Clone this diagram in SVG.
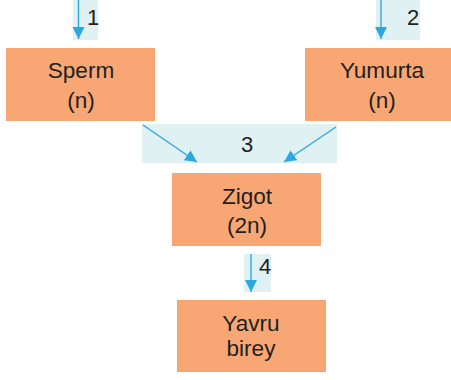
<svg xmlns="http://www.w3.org/2000/svg" width="451" height="380" viewBox="0 0 451 380">
<style>
.box{fill:#f8a774;}
.bg{fill:#dff1f3;}
.t{font-family:"Liberation Sans",Arial,sans-serif;font-size:22.6px;fill:#231f20;text-anchor:middle;}
.n{font-family:"Liberation Sans",Arial,sans-serif;font-size:22px;fill:#231f20;text-anchor:middle;}
.ar{stroke:#2ea7e0;stroke-width:1.4;fill:none;}
</style>
<defs>
<marker id="ah" markerUnits="userSpaceOnUse" markerWidth="14" markerHeight="14" viewBox="0 0 14 14" refX="12" refY="7" orient="auto">
<path d="M0,1 L12,7 L0,13 Z" fill="#2ea7e0"/>
</marker>
</defs>
<g id="labels">
<rect class="bg" x="73" y="0" width="25" height="40"/>
<rect class="bg" x="376" y="0" width="44" height="40"/>
<rect class="bg" x="142" y="124" width="195" height="39"/>
<rect class="bg" x="244" y="254" width="27" height="38"/>
<text class="n" x="93" y="25">1</text>
<text class="n" x="413" y="25">2</text>
<text class="n" x="247" y="152">3</text>
<text class="n" x="265" y="274">4</text>
</g>
<g id="connectors">
<line class="ar" x1="78.5" y1="0" x2="78.5" y2="39" marker-end="url(#ah)"/>
<line class="ar" x1="381" y1="0" x2="381" y2="39" marker-end="url(#ah)"/>
<line class="ar" x1="143" y1="125" x2="197" y2="162" marker-end="url(#ah)"/>
<line class="ar" x1="336" y1="127" x2="284" y2="162" marker-end="url(#ah)"/>
<line class="ar" x1="251" y1="254" x2="251" y2="292" marker-end="url(#ah)"/>
</g>
<g id="sperm">
<rect class="box" x="6" y="48" width="149" height="73"/>
<text class="t" x="81" y="78">Sperm</text>
<text class="t" x="81" y="108">(n)</text>
</g>
<g id="yumurta">
<rect class="box" x="305" y="48" width="146" height="73"/>
<text class="t" x="382" y="78">Yumurta</text>
<text class="t" x="382" y="108">(n)</text>
</g>
<g id="zigot">
<rect class="box" x="172" y="173" width="149" height="73"/>
<text class="t" x="247" y="204">Zigot</text>
<text class="t" x="247" y="233">(2n)</text>
</g>
<g id="yavru">
<rect class="box" x="177" y="300" width="149" height="72"/>
<text class="t" x="251" y="331">Yavru</text>
<text class="t" x="251" y="356">birey</text>
</g>
</svg>
